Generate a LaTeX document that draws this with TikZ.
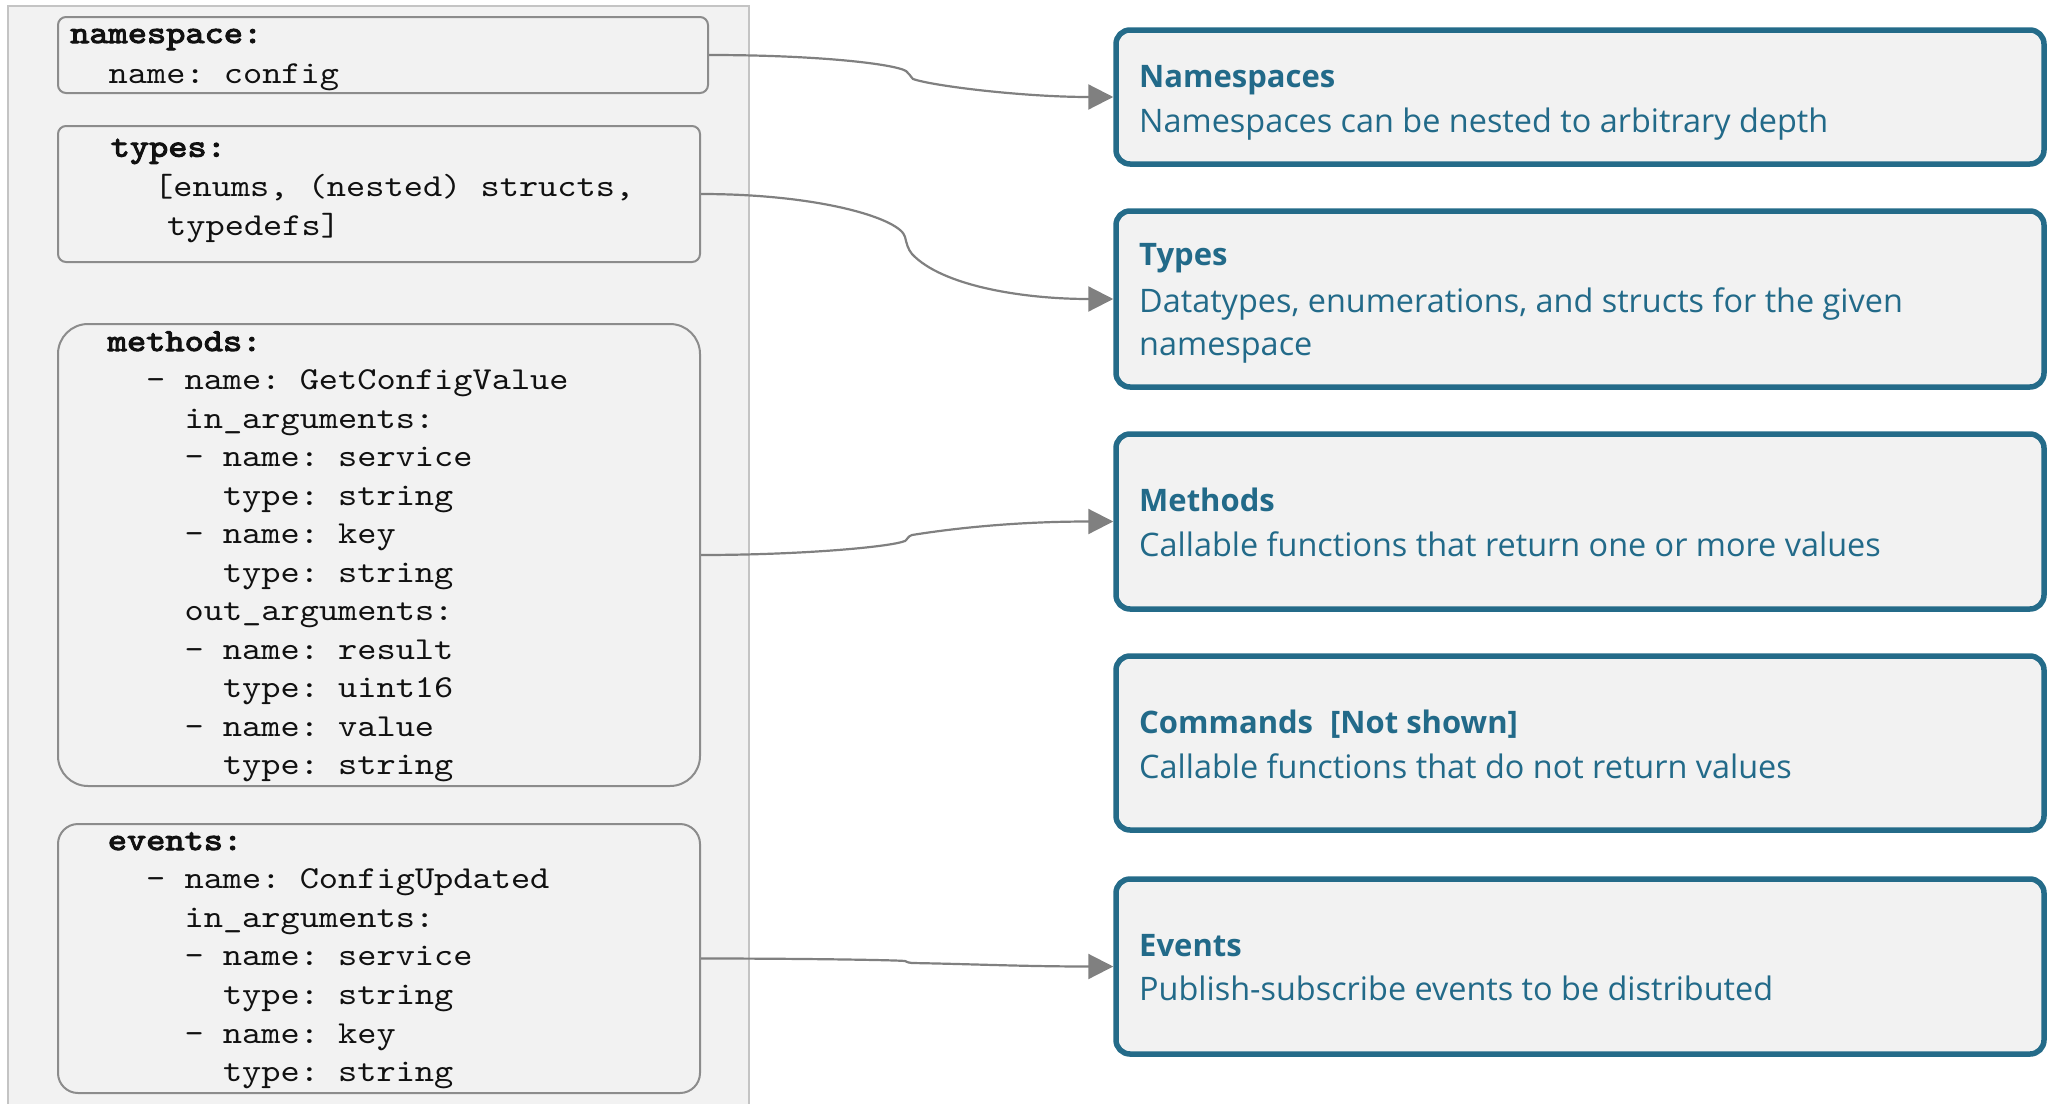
\documentclass[tikz,border=0pt]{standalone}
\usepackage{fontspec}
\setmainfont{Open Sans}
\newfontfamily\codefont{lmmono10-regular.otf}[
  FakeStretch=1.143,
  BoldFont=lmmono10-regular.otf,
  BoldFeatures={FakeBold=3.2}]
\usetikzlibrary{arrows.meta}

\definecolor{panelfill}{HTML}{F2F2F2}
\definecolor{panelline}{HTML}{C4C4C4}
\definecolor{codeline}{HTML}{8C8C8C}
\definecolor{accent}{HTML}{246B89}
\definecolor{accenttext}{HTML}{226A89}
\definecolor{linkgrey}{HTML}{808080}
\definecolor{codeink}{HTML}{111111}

\tikzset{
  panel/.style={draw=panelline, line width=2pt, fill=panelfill, inner sep=0pt, outer sep=0pt},
  codebox/.style={draw=codeline, line width=2pt, fill=panelfill, inner sep=0pt},
  infobox/.style={draw=accent, line width=5.5pt, fill=panelfill, rounded corners=14pt,
    inner sep=0pt, minimum width=928pt},
  codetext/.style={anchor=base west, inner sep=0pt, text=codeink,
    font=\codefont\fontsize{32}{38}\selectfont\frenchspacing},
  titletext/.style={anchor=base west, inner sep=0pt, text=accenttext,
    font=\bfseries\fontsize{31}{44}\selectfont},
  desctext/.style={anchor=base west, inner sep=0pt, text=accenttext,
    font=\fontsize{32.4}{44}\selectfont},
  link/.style={draw=linkgrey, line width=2.2pt, -{Triangle[length=25pt,width=25pt]}}
}

\begin{document}
\begin{tikzpicture}[x=1pt, y=-1pt]
\useasboundingbox (0,0) rectangle (2048,1103);

% left-hand panel with the YAML description
\node[panel, anchor=north west, minimum width=741pt, minimum height=1110pt] (pane) at (8,6) {};

\node[codebox, rounded corners=8pt, minimum width=650pt, minimum height=76pt] (ns) at (383,55) {};
\node[codebox, rounded corners=8pt, minimum width=642pt, minimum height=136pt] (ty) at (379,194) {};
\node[codebox, rounded corners=30pt, minimum width=642pt, minimum height=462pt] (me) at (379,555) {};
\node[codebox, rounded corners=20pt, minimum width=642pt, minimum height=269pt] (ev) at (379,958.5) {};

% namespace block
\node[codetext] (ns-0) at (70,43) {\textbf{namespace:}};
\node[codetext] (ns-1) at (108.5,83) {name: config};

% types block
\node[codetext] (ty-0) at (110.5,156.7) {\textbf{types:}};
\node[codetext] (ty-1) at (154,196.5) {[enums, (nested) structs,};
\node[codetext] (ty-2) at (167,235.5) {typedefs]};

% methods block
\foreach \ind/\txt [count=\i from 0] in {
    0/{\textbf{methods:}},
    2/{- name: GetConfigValue},
    4/{in\_arguments:},
    4/{- name: service},
    6/{type: string},
    4/{- name: key},
    6/{type: string},
    4/{out\_arguments:},
    4/{- name: result},
    6/{type: uint16},
    4/{- name: value},
    6/{type: string}}
  \node[codetext] (me-\i) at ({107.6+\ind*19.2},{351+\i*38.5}) {\txt};

% events block
\foreach \ind/\txt [count=\i from 0] in {
    0/{\textbf{events:}},
    2/{- name: ConfigUpdated},
    4/{in\_arguments:},
    4/{- name: service},
    6/{type: string},
    4/{- name: key},
    6/{type: string}}
  \node[codetext] (ev-\i) at ({107.6+\ind*19.2},{850+\i*38.6}) {\txt};

% right-hand explanation boxes
\node[infobox, minimum height=134pt] (rNs) at (1580,97) {};
\node[infobox, minimum height=176pt] (rTy) at (1580,299) {};
\node[infobox, minimum height=175pt] (rMe) at (1580,521.5) {};
\node[infobox, minimum height=174pt] (rCo) at (1580,743) {};
\node[infobox, minimum height=175pt] (rEv) at (1580,966.5) {};

\node[titletext] (rNs-t) at (1139,87) {Namespaces};
\node[desctext]  (rNs-d) at (1139,132) {Namespaces can be nested to arbitrary depth};

\node[titletext] (rTy-t) at (1139,265) {Types};
\node[desctext]  (rTy-d) at (1139,312) {Datatypes, enumerations, and structs for the given};
\node[desctext]  (rTy-e) at (1139,355) {namespace};

\node[titletext] (rMe-t) at (1139,511) {Methods};
\node[desctext]  (rMe-d) at (1139,556) {Callable functions that return one or more values};

\node[titletext] (rCo-t) at (1139,733) {Commands\hspace{0.55em}[Not shown]};
\node[desctext]  (rCo-d) at (1139,778) {Callable functions that do not return values};

\node[titletext] (rEv-t) at (1139,956) {Events};
\node[desctext]  (rEv-d) at (1139,1000) {Publish-subscribe events to be distributed};

% curved connectors, each with a small step in the middle
\coordinate (nsk1) at (906,71);
\coordinate (nsk2) at (913,79);
\draw[link] (ns.east) .. controls +(110,0) and +(-12,-7) .. (nsk1)
  .. controls +(3,2) and +(-3,-3) .. (nsk2)
  .. controls +(20,7) and +(-90,0) .. (rNs.west);

\coordinate (tyk1) at (905,237);
\coordinate (tyk2) at (912,254);
\draw[link] (ty.east) .. controls +(120,0) and +(-4,-18) .. (tyk1)
  .. controls +(2,8) and +(-4,-5) .. (tyk2)
  .. controls +(30,32) and +(-90,0) .. (rTy.west);

\coordinate (mek1) at (905,541);
\coordinate (mek2) at (912,535);
\draw[link] (me.east) .. controls +(100,0) and +(-15,6) .. (mek1)
  .. controls +(2,-1) and +(-4,1) .. (mek2)
  .. controls +(50,-8) and +(-90,0) .. (rMe.west);

\coordinate (evk1) at (905,961);
\coordinate (evk2) at (912,963);
\draw[link] (ev.east) .. controls +(100,0) and +(-10,-1) .. (evk1)
  .. controls +(2,1) and +(-3,0) .. (evk2)
  .. controls +(60,1) and +(-90,0) .. (rEv.west);
\end{tikzpicture}
\end{document}
